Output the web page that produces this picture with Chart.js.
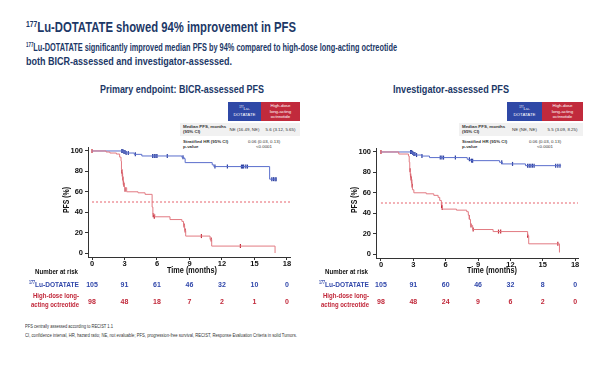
<!DOCTYPE html>
<html>
<head>
<meta charset="utf-8">
<script src="https://cdn.jsdelivr.net/npm/chart.js@4.4.0/dist/chart.umd.min.js"></script>
<style>
  body { margin: 0; background: #fff; }
  #page { position: relative; width: 600px; height: 365px; overflow: hidden;
          font-family: "Liberation Sans", Arial, sans-serif; }
  .abs { position: absolute; white-space: nowrap; }
  .navy { color: #1c3867; font-weight: bold; }
  .sup { font-size: 0.6em; position: relative; top: -0.6em; }
  canvas { position: absolute; }
  .tbl { position: absolute; font-size: 4.4px; color: #333; line-height: 5.4px; }
  .hdr { position: absolute; color: #fff; text-align: center; display: flex; align-items: center; justify-content: center; }
  .foot { color: #333; font-size: 6px; line-height: 7px; }
</style>
</head>
<body>
<div id="page">
  <div class="abs navy" data-w="270" style="left:26px;top:18px;font-size:15px;line-height:17px;"><span class="sup">177</span>Lu-DOTATATE showed 94% improvement in PFS</div>
  <div class="abs navy" data-w="371" style="left:26px;top:41px;font-size:11px;line-height:13px;"><span class="sup">177</span>Lu-DOTATATE significantly improved median PFS by 94% compared to high-dose long-acting octreotide</div>
  <div class="abs navy" data-w="206" style="left:26px;top:55px;font-size:11px;line-height:13px;">both BICR-assessed and investigator-assessed.</div>

  <div class="abs navy" data-w="164" style="left:100px;top:83px;font-size:11.5px;line-height:13px;">Primary endpoint: BICR-assessed PFS</div>
  <div class="abs navy" data-w="116" style="left:393px;top:83px;font-size:11.5px;line-height:13px;">Investigator-assessed PFS</div>

  <!-- left table -->
  <div class="tbl" style="left:180px;top:102px;width:120px;height:50px;">
    <div class="hdr" style="left:48px;top:0;width:33px;height:19px;background:#2f48a6;"><div><span class="sup">177</span>Lu-<br>DOTATATE</div></div>
    <div class="hdr" style="left:81px;top:0;width:39px;height:19px;background:#c12a3c;"><div>High-dose<br>long-acting<br>octreotide</div></div>
    <div style="position:absolute;left:0;top:21px;width:120px;height:13px;background:#f1f1f1;"></div>
    <div style="position:absolute;left:3px;top:22px;font-weight:bold;">Median PFS, months<br>(95% CI)</div>
    <div style="position:absolute;left:48px;top:25px;width:33px;text-align:center;">NE (16.49, NE)</div>
    <div style="position:absolute;left:81px;top:25px;width:39px;text-align:center;">5.6 (3.12, 5.65)</div>
    <div style="position:absolute;left:3px;top:37px;font-weight:bold;">Stratified HR (95% CI)<br>p-value</div>
    <div style="position:absolute;left:48px;top:37px;width:72px;text-align:center;">0.06 (0.03, 0.13)<br>&lt;0.0001</div>
  </div>

  <!-- right table -->
  <div class="tbl" style="left:459px;top:102px;width:124px;height:50px;">
    <div class="hdr" style="left:48px;top:0;width:35px;height:19px;background:#2f48a6;"><div><span class="sup">177</span>Lu-<br>DOTATATE</div></div>
    <div class="hdr" style="left:83px;top:0;width:41px;height:19px;background:#c12a3c;"><div>High-dose<br>long-acting<br>octreotide</div></div>
    <div style="position:absolute;left:0;top:21px;width:124px;height:13px;background:#f1f1f1;"></div>
    <div style="position:absolute;left:3px;top:22px;font-weight:bold;">Median PFS, months<br>(95% CI)</div>
    <div style="position:absolute;left:48px;top:25px;width:35px;text-align:center;">NE (NE, NE)</div>
    <div style="position:absolute;left:83px;top:25px;width:41px;text-align:center;">5.5 (3.09, 8.25)</div>
    <div style="position:absolute;left:3px;top:37px;font-weight:bold;">Stratified HR (95% CI)<br>p-value</div>
    <div style="position:absolute;left:48px;top:37px;width:76px;text-align:center;">0.06 (0.03, 0.13)<br>&lt;0.0001</div>
  </div>

  <canvas id="bicr" width="300" height="175" style="left:0;top:140px;"></canvas>
  <canvas id="inv" width="300" height="175" style="left:300px;top:140px;"></canvas>

  <div class="abs foot" data-w="88" style="left:25px;top:323px;">PFS centrally assessed according to RECIST 1.1</div>
  <div class="abs foot" data-w="272" style="left:25px;top:332px;">CI, confidence interval, HR, hazard ratio; NE, not evaluable; PFS, progression-free survival, RECIST, Response Evaluation Criteria in solid Tumors.</div>
</div>

<script>
// axis ticks
const xTicks = [0, 3, 6, 9, 12, 15, 18];
const yTicks = [0, 20, 40, 60, 80, 100];
const medianPfs = 50;

// BICR-assessed, 177Lu-DOTATATE
const bicrLuTime = [0, 2.9, 3.2, 3.9, 4.6, 8.3, 8.5, 8.6, 11.1, 11.25, 16.4, 17.0];
const bicrLuPfs  = [100, 99, 98, 96.7, 95.1, 93.8, 92.5, 88.6, 86.4, 84.7, 72.4, 72.4];
const bicrLuCensTime = [2.75, 2.85, 2.95, 3.05, 3.15, 3.35, 4.0, 5.6, 5.75, 5.9, 6.0, 6.95, 8.4, 11.35, 12.5, 13.8, 13.9, 14.0, 14.2, 14.35, 16.6, 16.75, 16.9, 17.0];
const bicrLuCensPfs  = [100, 100, 99, 99, 98, 98, 96.7, 95.1, 95.1, 95.1, 95.1, 95.1, 93.8, 84.7, 84.7, 84.7, 84.7, 84.7, 84.7, 84.7, 72.4, 72.4, 72.4, 72.4];

// BICR-assessed, high-dose octreotide
const bicrOctTime = [0, 1.3, 1.65, 2.25, 2.55, 2.68, 2.72, 2.78, 2.83, 2.88, 2.93, 3.0, 3.2, 4.25, 4.9, 5.55, 5.62, 5.8, 7.2, 8.3, 8.45, 8.55, 8.65, 10.9, 11.05, 16.9];
const bicrOctPfs  = [100, 99, 98, 97, 94, 90, 82, 78, 74, 70, 67, 64, 60, 59, 57.5, 45, 38, 35.5, 32.8, 31, 27, 22, 16.6, 13.3, 6.8, 0];
const bicrOctCensTime = [0, 2.75, 2.8, 2.85, 2.9, 2.95, 3.05, 5.65, 5.75, 8.5, 8.6, 10.1, 11.0, 13.7];
const bicrOctCensPfs  = [100, 80, 77, 73, 69, 67, 62, 37, 35.5, 27, 22, 16.6, 13.3, 6.8];

// investigator-assessed, 177Lu-DOTATATE
const invLuTime = [0, 2.85, 3.0, 3.2, 3.8, 4.5, 8.0, 8.3, 11.0, 11.25, 13.4, 16.7];
const invLuPfs  = [100, 99, 98, 97, 96, 94.5, 92.8, 91.5, 89.9, 88.3, 86.6, 86.6];
const invLuCensTime = [2.75, 2.85, 2.95, 3.05, 3.15, 3.3, 3.8, 5.5, 5.65, 5.8, 6.9, 8.2, 8.4, 8.5, 11.2, 12.2, 13.6, 13.75, 13.9, 14.05, 14.2, 16.2, 16.4, 16.6];
const invLuCensPfs  = [100, 100, 99, 98, 98, 97, 96, 94.5, 94.5, 94.5, 94.5, 92.8, 91.5, 91.5, 89.9, 88.3, 86.6, 86.6, 86.6, 86.6, 86.6, 86.6, 86.6, 86.6];

// investigator-assessed, high-dose octreotide
const invOctTime = [0, 1.65, 2.55, 2.62, 2.67, 2.72, 2.77, 2.82, 2.87, 2.92, 3.05, 4.2, 4.9, 5.3, 5.45, 5.6, 5.7, 7.0, 7.95, 8.1, 8.2, 8.3, 8.5, 10.4, 13.6, 13.7, 16.55];
const invOctPfs  = [100, 98, 96, 90, 82, 77, 73, 70, 66, 63, 60, 59, 57.5, 55.5, 52.5, 48, 44, 43, 41.5, 38, 34, 28, 24, 22, 18, 10, 1.5];
const invOctCensTime = [0, 2.7, 2.75, 2.8, 2.85, 2.9, 5.62, 5.68, 8.2, 8.35, 8.55, 10.9, 11.1, 13.6, 16.4];
const invOctCensPfs  = [100, 82, 77, 74, 71, 67, 47, 45, 36, 28, 24, 22, 22, 18, 10];

// number at risk
const bicrRiskLu  = [105, 91, 61, 46, 32, 10, 0];
const bicrRiskOct = [98, 48, 18, 7, 2, 1, 0];
const invRiskLu   = [105, 91, 60, 46, 32, 8, 0];
const invRiskOct  = [98, 48, 24, 9, 6, 2, 0];

const FONT = '"Liberation Sans", Arial, sans-serif';
const BLUE = '#5a6ecc', BLUE_DARK = '#2b3fa0';
const RED = '#e27a82', RED_DARK = '#c42a38';
const TXT_BLUE = '#3047aa', TXT_RED = '#c1283a';

// squeeze html text to the narrow face of the original
document.querySelectorAll('[data-w]').forEach(el => {
  const w = el.getBoundingClientRect().width;
  el.style.transformOrigin = 'left top';
  el.style.transform = 'scaleX(' + (el.dataset.w / w) + ')';
});

const pts = (xs, ys) => xs.map((x, i) => ({ x: x, y: ys[i] }));

// canvas text squeezed to a given width
function fitText(ctx, text, x, y, w, align) {
  const k = w / ctx.measureText(text).width;
  ctx.save();
  ctx.translate(x, y);
  ctx.scale(k, 1);
  ctx.textAlign = align;
  ctx.fillText(text, 0, 0);
  ctx.restore();
  return w;
}

function makeChart(id, p) {
  const riskTable = {
    id: 'riskTable',
    afterDraw(chart) {
      const ctx = chart.ctx, xs = chart.scales.x;
      ctx.save();
      ctx.fillStyle = '#111';
      ctx.textBaseline = 'middle';
      ctx.font = 'bold 9px ' + FONT;
      fitText(ctx, 'Time (months)', p.timeX, 131, 50, 'center');
      ctx.save();
      ctx.translate(p.pfsX, 60);
      ctx.rotate(-Math.PI / 2);
      fitText(ctx, 'PFS (%)', 0, 0, 26, 'center');
      ctx.restore();

      ctx.font = 'bold 8px ' + FONT;
      fitText(ctx, 'Number at risk', p.labelX - 1, 132, 43, 'right');
      ctx.fillStyle = TXT_BLUE;
      const w = fitText(ctx, 'Lu-DOTATATE', p.labelX, 145, 44, 'right');
      ctx.font = 'bold 5px ' + FONT;
      fitText(ctx, '177', p.labelX - w, 142.5, 6, 'right');
      ctx.fillStyle = TXT_RED;
      ctx.font = 'bold 8px ' + FONT;
      fitText(ctx, 'High-dose long-', p.labelX, 156, 46, 'right');
      fitText(ctx, 'acting octreotide', p.labelX, 165, 48, 'right');

      // at-risk numbers under each x tick
      ctx.font = 'bold 7px ' + FONT;
      ctx.textAlign = 'center';
      xTicks.forEach((t, i) => {
        const px = xs.getPixelForValue(t);
        ctx.fillStyle = TXT_BLUE;
        ctx.fillText(String(p.riskLu[i]), px, 145);
        ctx.fillStyle = TXT_RED;
        ctx.fillText(String(p.riskOct[i]), px, 162);
      });
      ctx.restore();
    }
  };

  return new Chart(document.getElementById(id), {
    type: 'line',
    data: {
      datasets: [
        { data: [{ x: 0, y: medianPfs }, { x: p.xMax, y: medianPfs }], borderColor: '#e6636c', borderWidth: 1, borderDash: [2, 2], pointRadius: 0 },
        { data: pts(p.octT, p.octS), borderColor: RED, borderWidth: 1, stepped: true, pointRadius: 0 },
        { data: pts(p.luT, p.luS), borderColor: BLUE, borderWidth: 1, stepped: true, pointRadius: 0 },
        { type: 'scatter', data: pts(p.octCT, p.octCS), pointStyle: 'line', rotation: 90, pointRadius: 2, borderColor: RED_DARK, borderWidth: 1.2 },
        { type: 'scatter', data: pts(p.luCT, p.luCS), pointStyle: 'line', rotation: 90, pointRadius: 2, borderColor: BLUE_DARK, borderWidth: 1.2 }
      ]
    },
    options: {
      responsive: false,
      animation: false,
      layout: { padding: p.pad },
      plugins: { legend: { display: false }, tooltip: { enabled: false } },
      scales: {
        x: {
          type: 'linear', min: p.xMin, max: p.xMax,
          afterFit: s => { s.height = 20; },
          afterBuildTicks: s => { s.ticks = xTicks.map(v => ({ value: v })); },
          grid: { drawOnChartArea: false, tickLength: 3, color: '#333' },
          border: { color: '#333' },
          ticks: { color: '#111', padding: -1, maxRotation: 0, font: { family: FONT, size: 7.5, weight: 'bold' } }
        },
        y: {
          type: 'linear', min: p.yMin, max: p.yMax,
          afterFit: s => { s.width = p.yW; },
          afterBuildTicks: s => { s.ticks = yTicks.map(v => ({ value: v })); },
          grid: { drawOnChartArea: false, tickLength: 3, color: '#333' },
          border: { color: '#333' },
          ticks: { color: '#111', padding: 2, font: { family: FONT, size: 7.5, weight: 'bold' } }
        }
      }
    },
    plugins: [riskTable]
  });
}

makeChart('bicr', {
  luT: bicrLuTime, luS: bicrLuPfs, luCT: bicrLuCensTime, luCS: bicrLuCensPfs,
  octT: bicrOctTime, octS: bicrOctPfs, octCT: bicrOctCensTime, octCS: bicrOctCensPfs,
  riskLu: bicrRiskLu, riskOct: bicrRiskOct,
  xMin: -0.37, xMax: 18.28, yMin: -3.9, yMax: 103.9,
  pad: { left: 0, top: 7, right: 10, bottom: 38 }, yW: 88,
  timeX: 192, pfsX: 67, labelX: 79
});

makeChart('inv', {
  luT: invLuTime, luS: invLuPfs, luCT: invLuCensTime, luCS: invLuCensPfs,
  octT: invOctTime, octS: invOctPfs, octCT: invOctCensTime, octCS: invOctCensPfs,
  riskLu: invRiskLu, riskOct: invRiskOct,
  xMin: -0.46, xMax: 18.27, yMin: -3.9, yMax: 103.9,
  pad: { left: 0, top: 8, right: 22, bottom: 37 }, yW: 76,
  timeX: 192, pfsX: 55, labelX: 69
});
</script>
</body>
</html>
